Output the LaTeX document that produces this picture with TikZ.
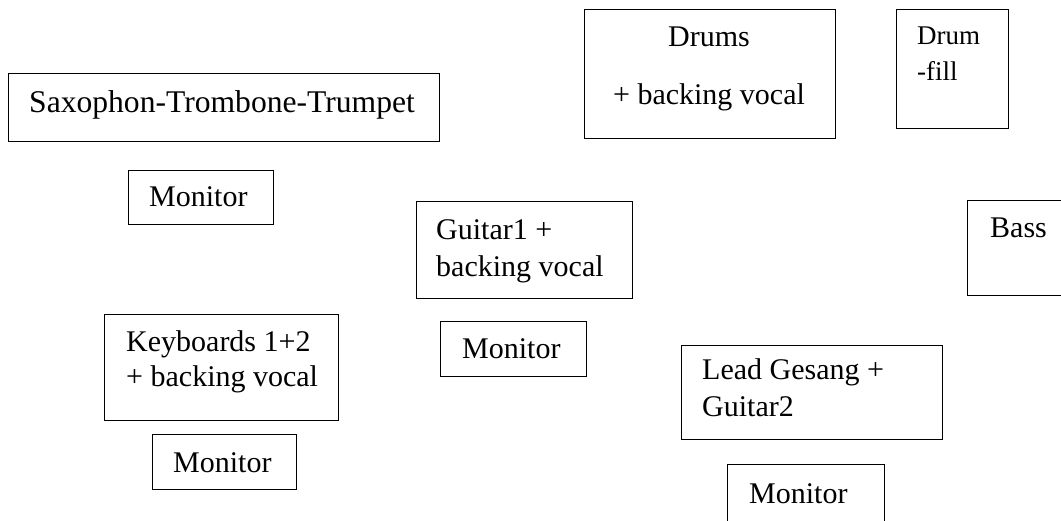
\documentclass[tikz,border=0pt]{standalone}
\usepackage{fontspec}
\setmainfont{Liberation Serif}
\tikzset{
  box/.style={draw, line width=1.3pt, inner sep=0pt, anchor=north west},
  lbl/.style={inner sep=0pt, anchor=base west, font=\fontsize{30}{36}\selectfont},
  clbl/.style={inner sep=0pt, anchor=base, font=\fontsize{30}{36}\selectfont},
  slbl/.style={inner sep=0pt, anchor=base west, font=\fontsize{27}{32}\selectfont}
}
\begin{document}
\begin{tikzpicture}[x=1pt,y=-1pt]
\useasboundingbox (0,0) rectangle (1061,521);
% boxes
\node[box, minimum width=431pt, minimum height=68pt] (sax) at (8,73) {};
\node[box, minimum width=251pt, minimum height=129pt] (drums) at (584,9) {};
\node[box, minimum width=112pt, minimum height=119pt] (fill) at (896,9) {};
\node[box, minimum width=145pt, minimum height=54pt] (mon1) at (128,170) {};
\node[box, minimum width=216pt, minimum height=97pt] (gtr) at (416,201) {};
\node[box, minimum width=110pt, minimum height=95pt] (bass) at (967,200) {};
\node[box, minimum width=146pt, minimum height=55pt] (mon2) at (440,321) {};
\node[box, minimum width=234pt, minimum height=106pt] (keys) at (104,314) {};
\node[box, minimum width=144pt, minimum height=55pt] (mon3) at (152,434) {};
\node[box, minimum width=261pt, minimum height=94pt] (lead) at (681,345) {};
\node[box, minimum width=157pt, minimum height=75pt] (mon4) at (727,464) {};
% texts
\node[lbl, font=\fontsize{31.6}{36}\selectfont] (saxt) at (29,113) {Saxophon-Trombone-Trumpet};
\node[clbl] (drumst1) at (709,47) {Drums};
\node[clbl] (drumst2) at (709,105) {+ backing vocal};
\node[slbl] (fillt1) at (917,45) {Drum};
\node[slbl] (fillt2) at (917,81) {-fill};
\node[lbl] (mon1t) at (149,207) {Monitor};
\node[lbl] (gtrt1) at (436,240) {Guitar1 +};
\node[lbl] (gtrt2) at (436,277) {backing vocal};
\node[lbl] (basst) at (990,238) {Bass};
\node[lbl] (mon2t) at (462,359) {Monitor};
\node[lbl] (keyst1) at (126,352) {Keyboards 1+2};
\node[lbl] (keyst2) at (126,387) {+ backing vocal};
\node[lbl] (mon3t) at (173,472) {Monitor};
\node[lbl] (leadt1) at (702,380) {Lead Gesang +};
\node[lbl] (leadt2) at (702,417) {Guitar2};
\node[lbl] (mon4t) at (749,503) {Monitor};
\end{tikzpicture}
\end{document}
